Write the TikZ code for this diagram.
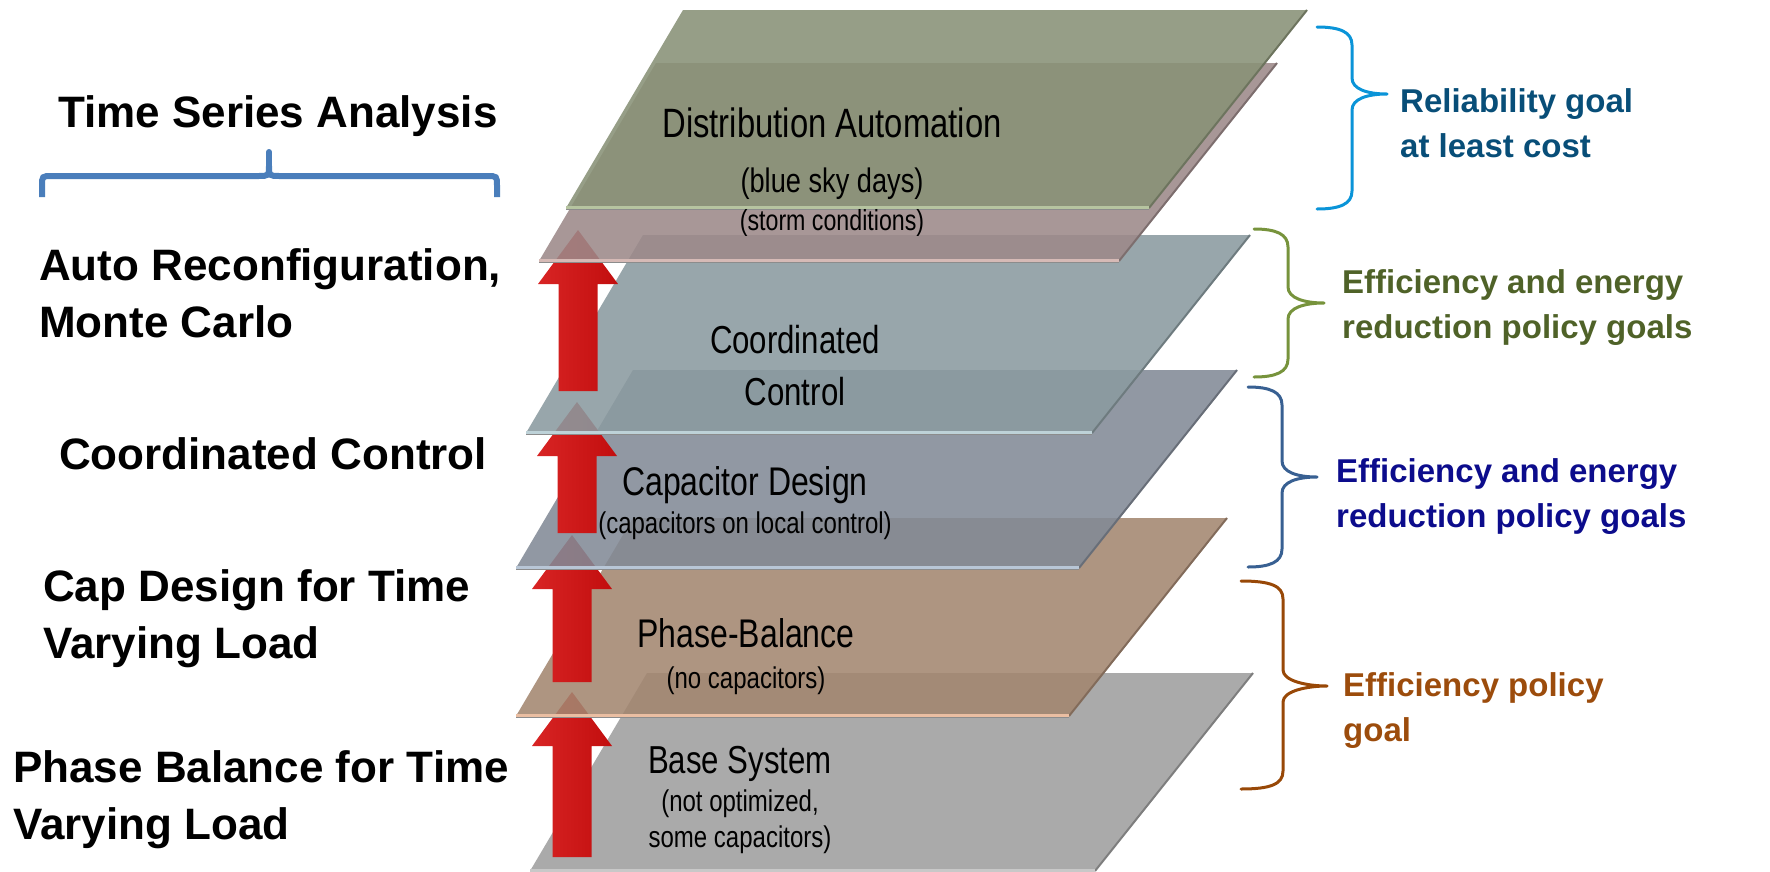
\documentclass[tikz,border=0pt]{standalone}
\usepackage{fontspec}
\setmainfont{Liberation Sans}
\newfontfamily\planefont[FakeStretch=0.8]{Liberation Sans}
\usepackage{tikz}
\usetikzlibrary{positioning,calc}

% layer fills (before transparency)
\definecolor{daGreen}{RGB}{136,145,118}
\definecolor{daLight}{RGB}{182,196,160}
\definecolor{stormPink}{RGB}{156,137,137}
\definecolor{stormLight}{RGB}{214,186,182}
\definecolor{ccSlate}{RGB}{138,154,159}
\definecolor{ccLight}{RGB}{190,210,216}
\definecolor{capBlue}{RGB}{130,138,150}
\definecolor{capLight}{RGB}{184,198,214}
\definecolor{pbTan}{RGB}{163,134,112}
\definecolor{pbLight}{RGB}{234,190,162}
\definecolor{baseGray}{RGB}{158,158,158}
\definecolor{baseLight}{RGB}{200,200,200}
\definecolor{liftLeft}{RGB}{216,36,36}
\definecolor{liftRight}{RGB}{194,14,14}
% braces and goal texts
\definecolor{seriesBlue}{RGB}{74,126,187}
\definecolor{relBrace}{RGB}{10,148,216}
\definecolor{relText}{RGB}{8,78,120}
\definecolor{effBrace}{RGB}{119,147,60}
\definecolor{effText}{RGB}{79,98,40}
\definecolor{redBrace}{RGB}{56,96,146}
\definecolor{redText}{RGB}{12,12,140}
\definecolor{polBrace}{RGB}{152,72,7}
\definecolor{polText}{RGB}{156,76,12}

\tikzstyle{method} = [anchor=north west, align=left, inner sep=0pt, font=\fontsize{44}{57}\selectfont\bfseries]
\tikzstyle{goal} = [anchor=north west, align=left, inner sep=0pt, font=\fontsize{33}{45}\selectfont\bfseries]
\tikzstyle{layerlabel} = [inner sep=0pt, align=center]

% one tilted layer: y top, x top left, x top right, fill, bevel
\newcommand{\drawlayer}[5]{%
  \fill[#4, fill opacity=0.88] (#2,#1) -- (#3,#1) -- (#3-158,#1+198) -- (#2-117,#1+198) -- cycle;
  \draw[#4!80!black, line width=2pt] (#3,#1) -- (#3-158,#1+198);
  \draw[black!45, line width=1.2pt] (#2-117,#1+199.5) -- (#3-158,#1+199.5);
  \draw[#5, line width=3pt] (#2-117,#1+197) -- (#3-158,#1+197);
}
% block arrow: x centre, y tip, y foot
\newcommand{\liftarrow}[3]{%
  \shade[left color=liftLeft, right color=liftRight]
    (#1-19.5,#3) -- (#1-19.5,#2+54) -- (#1-40,#2+54) -- (#1,#2)
    -- (#1+40,#2+54) -- (#1+19.5,#2+54) -- (#1+19.5,#3) -- cycle;
}
% right brace: colour, x end, x spine, x tip, y top, y tip, y bottom
\newcommand{\goalbrace}[7]{%
  \draw[#1, line width=3pt, line cap=round, line join=round]
    (#2,#5) .. controls (#3-12,#5) and (#3,#5+5) .. (#3,#5+18)
    -- (#3,#6-16) .. controls (#3,#6-5) and (#4-20,#6) .. (#4,#6)
    .. controls (#4-20,#6) and (#3,#6+5) .. (#3,#6+16)
    -- (#3,#7-18) .. controls (#3,#7-5) and (#3-12,#7) .. (#2,#7);
}

\begin{document}
\begin{tikzpicture}[x=1pt, y=-1pt]
	\useasboundingbox (0,0) rectangle (1770,871);

	% stack of layers, bottom first, arrows between
	\drawlayer{673}{647}{1253}{baseGray}{baseLight}
	\liftarrow{572}{692}{857}
	\drawlayer{518}{633}{1227}{pbTan}{pbLight}
	\liftarrow{572}{535}{682}
	\drawlayer{370}{633}{1237}{capBlue}{capLight}
	\liftarrow{577}{402}{533}
	\drawlayer{235}{643}{1250}{ccSlate}{ccLight}
	\liftarrow{578}{230}{391}
	\drawlayer{63}{656}{1277}{stormPink}{stormLight}
	\drawlayer{10}{683}{1307}{daGreen}{daLight}

	% layer labels
	\node (da) [layerlabel, anchor=base, font=\planefont\fontsize{41}{48}\selectfont] at (832,137) {Distribution Automation};
	\node (bluesky) [layerlabel, anchor=base, font=\planefont\fontsize{34}{40}\selectfont] at (832,192) {(blue sky days)};
	\node (storm) [layerlabel, anchor=base, font=\planefont\fontsize{29}{34}\selectfont] at (832,230) {(storm conditions)};
	\node (coord) [layerlabel, anchor=north, font=\planefont\fontsize{39}{52}\selectfont] at (795,325) {Coordinated\\Control};
	\node (capdes) [layerlabel, anchor=base, font=\planefont\fontsize{40}{48}\selectfont] at (745,495) {Capacitor Design};
	\node (caplocal) [layerlabel, anchor=base, font=\planefont\fontsize{30}{36}\selectfont] at (745,533) {(capacitors on local control)};
	\node (phase) [layerlabel, anchor=base, font=\planefont\fontsize{40}{48}\selectfont] at (746,647) {Phase-Balance};
	\node (nocap) [layerlabel, anchor=base, font=\planefont\fontsize{30}{36}\selectfont] at (746,688) {(no capacitors)};
	\node (base) [layerlabel, anchor=base, font=\planefont\fontsize{39}{48}\selectfont] at (740,773) {Base System};
	\node (baseinfo) [layerlabel, anchor=north, font=\planefont\fontsize{30}{36}\selectfont] at (740,790) {(not optimized,\\some capacitors)};

	% analysis methods on the left
	\node (tsa) [method] at (58,95) {Time Series Analysis};
	\draw[seriesBlue, line width=6pt] (42,197) -- (42,186) .. controls (42,176) .. (52,176)
		-- (258,176) .. controls (269,176) .. (269,166) .. controls (269,176) .. (280,176)
		-- (487,176) .. controls (497,176) .. (497,186) -- (497,197);
	\draw[seriesBlue, line width=6pt, line cap=round] (269,170) -- (269,152);
	\node (autoreconf) [method] at (39,248) {Auto Reconfiguration,\\Monte Carlo};
	\node (coordctl) [method] at (59,437) {Coordinated Control};
	\node (capvary) [method] at (43,569) {Cap Design for Time\\Varying Load};
	\node (phasevary) [method] at (13,750) {Phase Balance for Time\\Varying Load};

	% policy goals on the right
	\goalbrace{relBrace}{1317}{1352}{1387}{27}{94}{209}
	\node (reliab) [goal, text=relText] at (1400,88) {Reliability goal\\at least cost};
	\goalbrace{effBrace}{1254}{1288}{1324}{229}{303}{377}
	\node (effenergy) [goal, text=effText] at (1342,269) {Efficiency and energy\\reduction policy goals};
	\goalbrace{redBrace}{1248}{1282}{1317}{387}{477}{567}
	\node (effreduce) [goal, text=redText] at (1336,458) {Efficiency and energy\\reduction policy goals};
	\goalbrace{polBrace}{1241}{1283}{1327}{581}{686}{789}
	\node (effpolicy) [goal, text=polText] at (1343,672) {Efficiency policy\\goal};
\end{tikzpicture}
\end{document}
